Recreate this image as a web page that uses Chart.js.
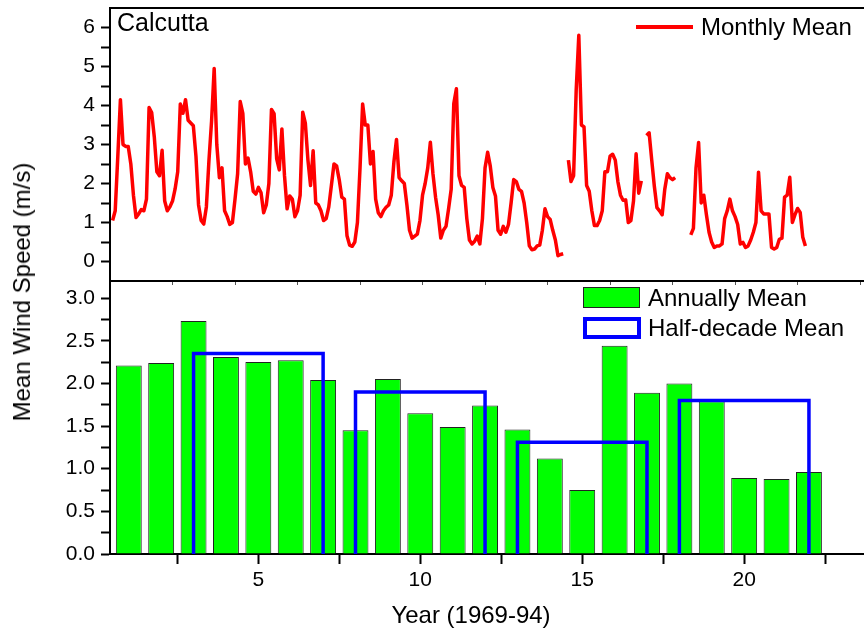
<!DOCTYPE html>
<html>
<head>
<meta charset="utf-8">
<script src="https://cdn.jsdelivr.net/npm/chart.js@4"></script>
<style>
  html, body { margin: 0; padding: 0; background: #fff; }
  #wrap { position: relative; width: 864px; height: 632px; font-family: 'Liberation Sans', Arial, sans-serif; color: #000; }
  #chart { position: absolute; left: 0; top: 0; }
  .lbl { position: absolute; white-space: nowrap; line-height: 1; }
  .swatch { position: absolute; box-sizing: border-box; }
</style>
</head>
<body>
<div id="wrap">
  <canvas id="chart" width="864" height="632"></canvas>
  <div class="lbl" style="left:117px;top:10px;font-size:25px">Calcutta</div>
  <div class="swatch" style="left:636px;top:25px;width:57px;height:4px;background:#ff0000"></div>
  <div class="lbl" style="left:701px;top:15px;font-size:24px">Monthly Mean</div>
  <div class="swatch" style="left:583px;top:287px;width:57px;height:21px;background:#00ff00;border:1px solid #222"></div>
  <div class="lbl" style="left:648px;top:286px;font-size:24px">Annually Mean</div>
  <div class="swatch" style="left:583px;top:317px;width:58px;height:22px;background:#fff;border:4px solid #0000ff"></div>
  <div class="lbl" style="left:648px;top:316px;font-size:24px">Half-decade Mean</div>
  <div class="lbl" style="left:22px;top:292px;font-size:24px;transform:translate(-50%,-50%) rotate(-90deg)">Mean Wind Speed (m/s)</div>
  <div class="lbl" style="left:471px;top:603px;font-size:24px;transform:translateX(-50%)">Year (1969-94)</div>
</div>
<script>
// monthly mean wind speed (m/s), one value per month, null = missing
const monthlyMean = [
  1.05, 1.3, 2.7, 4.15, 3.0, 2.95, 2.95, 2.5, 1.7, 1.13, 1.22, 1.33,
  1.3, 1.6, 3.95, 3.82, 3.2, 2.3, 2.2, 2.85, 1.55, 1.3, 1.4, 1.55,
  1.86, 2.3, 4.04, 3.8, 4.15, 3.62, 3.55, 3.48, 2.7, 1.45, 1.05, 0.96,
  1.4, 2.6, 3.6, 4.95, 3.0, 2.15, 2.4, 1.3, 1.15, 0.95, 1.0, 1.6,
  2.25, 4.1, 3.8, 2.5, 2.65, 2.3, 1.8, 1.73, 1.9, 1.76, 1.25, 1.45,
  2.0, 3.9, 3.79, 2.63, 2.35, 3.4, 2.2, 1.35, 1.68, 1.6, 1.15, 1.3,
  1.7, 3.83, 3.55, 2.6, 1.95, 2.84, 1.5, 1.45, 1.3, 1.05, 1.1, 1.4,
  1.95, 2.5, 2.45, 2.1, 1.65, 1.6, 0.66, 0.42, 0.39, 0.5, 1.0, 2.4,
  4.04, 3.5, 3.5, 2.5, 2.82, 1.6, 1.25, 1.15, 1.3, 1.39, 1.45, 1.7,
  2.55, 3.13, 2.15, 2.07, 2.0, 1.45, 0.8, 0.6, 0.65, 0.7, 1.05, 1.7,
  2.0, 2.4, 3.06, 2.25, 1.65, 1.2, 0.6, 0.8, 0.9, 1.35, 1.85, 4.05,
  4.43, 2.2, 1.95, 1.9, 1.1, 0.55, 0.45, 0.52, 0.65, 0.45, 1.1, 2.4,
  2.8, 2.45, 1.9, 1.68, 0.8, 0.7, 0.9, 0.75, 0.95, 1.5, 2.1, 2.05,
  1.85, 1.8, 1.5, 1.0, 0.4, 0.3, 0.32, 0.4, 0.42, 0.8, 1.35, 1.15,
  1.08, 0.8, 0.55, 0.15, 0.18, 0.2, null, 2.6, 2.05, 2.2, 4.4, 5.8,
  3.5, 3.45, 1.95, 1.8, 1.3, 0.92, 0.92, 1.05, 1.3, 2.3, 2.3, 2.7,
  2.75, 2.6, 2.05, 1.7, 1.57, 1.58, 1.0, 1.05, 1.55, 2.76, 1.75, 2.07,
  null, 3.23, 3.3, 2.6, 1.93, 1.38, 1.3, 1.2, 1.85, 2.25, 2.15, 2.1,
  2.15, null, null, null, null, null, 0.68, 0.85, 2.4, 3.05, 1.5, 1.7,
  1.2, 0.75, 0.5, 0.36, 0.4, 0.4, 0.45, 1.1, 1.3, 1.6, 1.3, 1.15,
  0.95, 0.45, 0.49, 0.36, 0.4, 0.55, 0.75, 1.0, 2.29, 1.3, 1.22, 1.22,
  1.22, 0.36, 0.32, 0.36, 0.57, 0.6, 1.65, 1.7, 2.16, 1.0, 1.2, 1.36,
  1.26, 0.62, 0.4
];

const years = [1, 2, 3, 4, 5, 6, 7, 8, 9, 10, 11, 12, 13, 14, 15, 16, 17, 18, 19, 20, 21, 22];
const annualMean = [2.21, 2.24, 2.73, 2.31, 2.25, 2.27, 2.04, 1.45, 2.05, 1.65, 1.49,
                    1.74, 1.46, 1.12, 0.75, 2.44, 1.89, 2.0, 1.79, 0.89, 0.88, 0.96];

const halfStart = [3, 8, 13, 18];
const halfEnd = [7, 12, 17, 22];
const halfMean = [2.35, 1.9, 1.31, 1.8];

const xTicks = [2.5, 5, 7.5, 10, 12.5, 15, 17.5, 20, 22.5];
const monthTicks = [24, 48, 72, 96, 120, 144, 168, 192, 216, 240, 264, 288];
const yTopTicks = [0, 0.5, 1, 1.5, 2, 2.5, 3, 3.5, 4, 4.5, 5, 5.5, 6];
const yBotTicks = [0, 0.25, 0.5, 0.75, 1, 1.25, 1.5, 1.75, 2, 2.25, 2.5, 2.75, 3];

Chart.defaults.font.family = "'Liberation Sans', Arial, sans-serif";
Chart.defaults.color = '#000';

// open-bottom boxes for each half-decade
const halfBoxes = [];
halfStart.forEach((s, k) => {
  halfBoxes.push({x: s, y: 0}, {x: s, y: halfMean[k]}, {x: halfEnd[k], y: halfMean[k]},
                 {x: halfEnd[k], y: 0}, {x: halfEnd[k], y: null});
});

// frame: top border and the line between the two panels
const panelFrame = {
  id: 'panelFrame',
  afterDatasetsDraw(chart) {
    const {ctx, chartArea: a, scales} = chart;
    const mid = scales.yBot.top;
    ctx.save();
    ctx.strokeStyle = '#000';
    ctx.lineWidth = 2;
    ctx.beginPath();
    ctx.moveTo(a.left, a.top);
    ctx.lineTo(a.right, a.top);
    ctx.moveTo(a.left, mid);
    ctx.lineTo(a.right, mid);
    ctx.stroke();
    ctx.restore();
  }
};

function yAxisFit(s) {
  s.width = 110;
  s.paddingTop = 0;
  s.paddingBottom = 0;
}

const tickFont = {size: 21};

new Chart(document.getElementById('chart'), {
  type: 'bar',
  data: {
    datasets: [
      {
        type: 'line',
        label: 'Half-decade Mean',
        data: halfBoxes,
        xAxisID: 'x',
        yAxisID: 'yBot',
        borderColor: '#0000ff',
        borderWidth: 3.5,
        borderJoinStyle: 'miter',
        pointRadius: 0,
        tension: 0,
        spanGaps: false,
        order: 0
      },
      {
        type: 'bar',
        label: 'Annually Mean',
        data: years.map((yr, i) => ({x: yr, y: annualMean[i]})),
        xAxisID: 'x',
        yAxisID: 'yBot',
        backgroundColor: '#00ff00',
        borderColor: '#222',
        borderWidth: 1,
        grouped: false,
        barPercentage: 0.8,
        categoryPercentage: 1,
        order: 1
      },
      {
        type: 'line',
        label: 'Monthly Mean',
        data: monthlyMean.map((v, i) => ({x: i + 1, y: v})),
        xAxisID: 'xm',
        yAxisID: 'yTop',
        borderColor: '#ff0000',
        borderWidth: 3.5,
        borderJoinStyle: 'round',
        pointRadius: 0,
        tension: 0,
        spanGaps: false,
        order: 2
      }
    ]
  },
  options: {
    responsive: false,
    animation: false,
    events: [],
    layout: {padding: {top: 8, left: 0, right: 0, bottom: 0}},
    plugins: {
      legend: {display: false},
      tooltip: {enabled: false}
    },
    scales: {
      x: {
        type: 'linear',
        position: 'bottom',
        min: 0.42,
        max: 23.7,
        offset: false,
        z: 1,
        border: {color: '#000', width: 2},
        grid: {offset: false, drawOnChartArea: false, tickLength: 10, tickWidth: 2, tickColor: '#000'},
        ticks: {
          font: tickFont, padding: 4, maxRotation: 0, autoSkip: false,
          callback: (v) => (v % 5 === 0 ? String(v) : '')
        },
        afterBuildTicks: (s) => { s.ticks = xTicks.map(v => ({value: v})); },
        afterFit: (s) => { s.height = 78; s.paddingLeft = 0; s.paddingRight = 0; }
      },
      xm: {
        type: 'linear',
        axis: 'x',
        position: {yTop: -0.5},
        min: 0,
        max: 289.5,
        offset: false,
        border: {display: false},
        grid: {offset: false, drawOnChartArea: false, tickLength: 4, tickWidth: 1, tickColor: '#555'},
        ticks: {display: false},
        afterBuildTicks: (s) => { s.ticks = monthTicks.map(v => ({value: v})); },
        afterFit: (s) => { s.paddingLeft = 0; s.paddingRight = 0; }
      },
      yBot: {
        type: 'linear',
        position: 'left',
        stack: 'panels',
        stackWeight: 1,
        min: 0,
        max: 3.2,
        border: {color: '#000', width: 2},
        grid: {drawOnChartArea: false, tickLength: 9, tickWidth: 2, tickColor: '#000'},
        ticks: {
          font: tickFont, padding: 6, autoSkip: false,
          callback: (v) => (Math.abs(v * 2 - Math.round(v * 2)) < 1e-9 ? v.toFixed(1) : '')
        },
        afterBuildTicks: (s) => { s.ticks = yBotTicks.map(v => ({value: v})); },
        afterFit: yAxisFit
      },
      yTop: {
        type: 'linear',
        position: 'left',
        stack: 'panels',
        stackWeight: 1,
        min: -0.5,
        max: 6.5,
        border: {color: '#000', width: 2},
        grid: {drawOnChartArea: false, tickLength: 9, tickWidth: 2, tickColor: '#000'},
        ticks: {
          font: tickFont, padding: 6, autoSkip: false,
          callback: (v) => (Number.isInteger(v) ? String(v) : '')
        },
        afterBuildTicks: (s) => { s.ticks = yTopTicks.map(v => ({value: v})); },
        afterFit: yAxisFit
      }
    }
  },
  plugins: [panelFrame]
});
</script>
</body>
</html>
